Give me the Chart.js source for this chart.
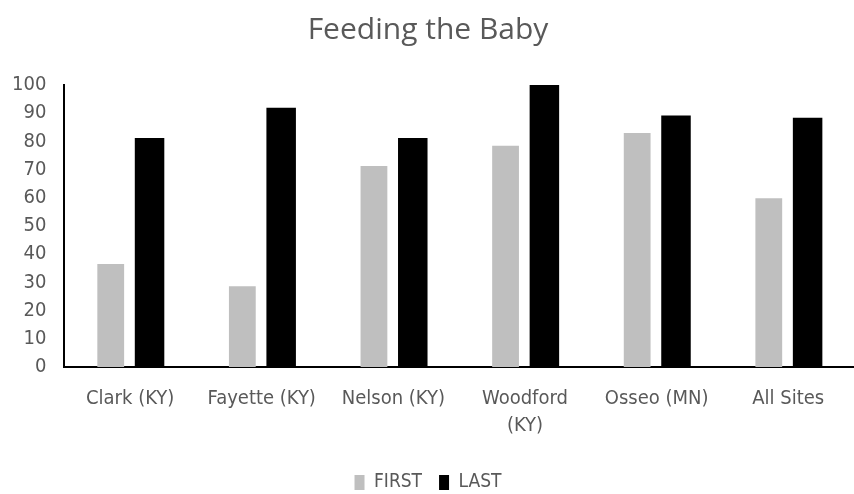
<!DOCTYPE html>
<html lang="en">
<head>
  <meta charset="UTF-8">
  <title>Feeding the Baby</title>
  <style>
    html, body { margin: 0; padding: 0; background: #fff; }
    #wrap { width: 854px; height: 494px; position: relative; }
  </style>
  <script src="https://cdn.jsdelivr.net/npm/chart.js"></script>
</head>
<body>
  <div id="wrap"><canvas id="chart"></canvas></div>
  <script>
    // data
    const sites = ['Clark (KY)', 'Fayette (KY)', 'Nelson (KY)', ['Woodford', '(KY)'], 'Osseo (MN)', 'All Sites'];
    const firstValues = [36.5, 28.6, 71.3, 78.5, 83, 59.8];
    const lastValues = [81.2, 91.9, 81.2, 100, 89.2, 88.4];

    const textColor = '#595959';
    const fontFamily = '"Liberation Sans Narrow", "DejaVu Sans Condensed", Roboto, sans-serif';

    new Chart(document.getElementById('chart'), {
      type: 'bar',
      data: {
        labels: sites,
        datasets: [
          {
            label: 'FIRST',
            data: firstValues,
            backgroundColor: '#bfbfbf',
            barPercentage: 0.69,
            categoryPercentage: 0.59
          },
          {
            label: 'LAST',
            data: lastValues,
            backgroundColor: '#000000',
            barPercentage: 0.76,
            categoryPercentage: 0.59
          }
        ]
      },
      options: {
        responsive: true,
        maintainAspectRatio: false,
        animation: false,
        layout: { padding: { left: 2, right: 0, top: 0, bottom: -8 } },
        plugins: {
          title: {
            display: true,
            text: 'Feeding the Baby',
            color: textColor,
            font: { family: 'Open Sans, sans-serif', size: 30, weight: 'normal' },
            padding: { top: 12, bottom: 37 }
          },
          legend: {
            position: 'bottom',
            labels: {
              color: textColor,
              font: { family: fontFamily, size: 19 },
              boxWidth: 10,
              boxHeight: 15,
              padding: 17
            }
          },
          tooltip: { enabled: false }
        },
        scales: {
          x: {
            grid: { display: false },
            border: { display: true, color: '#000', width: 2 },
            ticks: {
              color: textColor,
              font: { family: fontFamily, size: 20, lineHeight: 1.35 },
              padding: 10,
              maxRotation: 0
            },
            afterFit: function (scale) { scale.height = 89; }
          },
          y: {
            min: 0,
            max: 100,
            grid: { display: false },
            border: { display: true, color: '#000', width: 2 },
            ticks: { stepSize: 10, color: textColor, font: { family: fontFamily, size: 20 }, padding: 10 }
          }
        }
      }
    });
  </script>
</body>
</html>
